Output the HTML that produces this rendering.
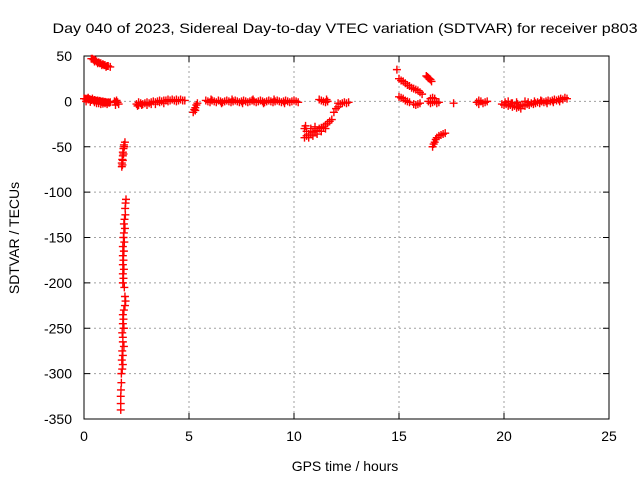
<!DOCTYPE html>
<html><head><meta charset="utf-8"><style>
body{margin:0;background:#fff}
svg{display:block;font-family:"Liberation Sans",Arial,sans-serif}
</style></head><body>
<svg id="chart" width="640" height="480" viewBox="0 0 640 480">
<rect width="640" height="480" fill="#fff"/>
<text x="345" y="33" font-size="14" text-anchor="middle" textLength="585" lengthAdjust="spacingAndGlyphs">Day 040 of 2023, Sidereal Day-to-day VTEC variation (SDTVAR) for receiver p803</text>
<g id="grid"></g>
<g id="axes"></g>
<g id="marks"></g>
<text x="345" y="471" font-size="14" text-anchor="middle">GPS time / hours</text>
<text x="0" y="0" font-size="14" text-anchor="middle" transform="translate(19,238) rotate(-90)">SDTVAR / TECUs</text>
</svg>
<script>
const xTicks=[0,5,10,15,20,25];
const yTicks=[50,0,-50,-100,-150,-200,-250,-300,-350];
const hours=[];const vals=[];
const pts=[
[0,3],[0.05,3],[0.1,2.5],[0.15,3],[0.2,2],[0.25,2.5],[0.3,2],[0.35,1.5],[0.4,2],[0.45,1],[0.5,1.5],[0.55,1],[0.6,0.5],[0.65,1],[0.7,0],[0.75,0.5],[0.8,0],[0.85,-0.5],[0.9,0],[0.95,-1],[1.0,-0.5],[1.05,-1],[1.1,-1.5],[1.15,-1],[1.2,-1.5],[1.25,-1],[0.1,0],[0.3,-0.5],[0.5,-1],[0.7,-2],[0.9,-2.5],[1.1,-3],[0.2,4],[0.4,3],[0.6,-2],[0.8,-3],[1.0,-2],
[0.35,47],[0.4,47],[0.45,46],[0.5,46],[0.55,45],[0.6,44],[0.7,43],[0.75,42],[0.8,42],[0.9,41],[0.95,40],[1.0,40],[1.1,39],[1.15,39],[1.25,38],[0.5,44],[0.65,42],[0.85,40],[1.05,38],
[1.45,0],[1.5,-1],[1.55,1],[1.6,-1],[1.65,-3],[1.5,-4],
[1.8,-72],[1.8,-68],[1.82,-64],[1.85,-60],[1.85,-56],[1.88,-52],[1.9,-48],[1.95,-45],[1.92,-50],[1.85,-65],[1.88,-58],[1.83,-70],
[2.0,-108],[1.98,-112],[1.96,-118],[1.97,-125],[1.93,-130],[1.9,-135],[1.95,-140],[1.9,-145],[1.88,-150],[1.92,-155],[1.85,-160],[1.9,-165],[1.85,-170],[1.88,-175],[1.85,-180],[1.9,-185],[1.85,-190],[1.88,-195],[1.85,-200],[1.92,-205],[1.95,-215],[1.98,-220],[1.95,-225],[1.9,-230],[1.85,-235],[1.88,-240],[1.85,-245],[1.9,-250],[1.82,-255],[1.85,-260],[1.85,-265],[1.9,-270],[1.82,-275],[1.85,-280],[1.8,-285],[1.85,-290],[1.82,-295],[1.78,-300],[1.78,-310],[1.76,-318],[1.75,-325],[1.75,-333],[1.75,-340],
[2.5,-3],[2.6,-4],[2.7,-2],[2.8,-3],[2.9,-2],[3.0,-1],[3.1,-2],[3.2,-1],[3.3,0],[3.4,-1],[3.5,0],[3.6,1],[3.7,0],[3.8,1],[3.9,1],[4.0,0],[4.1,1],[4.2,2],[4.3,1],[4.4,2],[4.5,1],[4.6,2],[4.7,1],[4.8,1],[2.6,-1],[3.0,-4],[3.4,-3],[3.8,-2],[2.55,-5],[2.75,-4],[3.2,-3],[3.6,-1],[4.0,2],[4.4,0],
[5.2,-12],[5.25,-9],[5.3,-7],[5.35,-4],[5.4,-2],[5.3,-10],
[5.8,1],[5.9,0],[6.0,-1],[6.1,1],[6.2,0],[6.3,-1],[6.4,1],[6.5,0],[6.6,-1],[6.7,0],[6.8,1],[6.9,0],[7.0,-1],[7.1,0],[7.2,1],[7.3,0],[7.4,-1],[7.5,0],[7.6,1],[7.7,0],[7.8,-1],[7.9,0],[8.0,1],[8.1,0],[8.2,-1],[8.3,0],[8.4,1],[8.5,0],[8.6,-1],[8.7,0],[8.8,1],[8.9,0],[9.0,-1],[9.1,0],[9.2,1],[9.3,0],[9.4,-1],[9.5,0],[9.6,1],[9.7,0],[9.8,-1],[9.9,0],[10.0,1],[10.1,0],[10.2,-1],[6.05,2],[6.55,-2],[7.05,2],[7.55,-2],[8.05,2],[8.55,-2],[9.05,2],[9.55,-2],
[10.5,-40],[10.6,-38],[10.7,-36],[10.8,-36],[10.9,-34],[11.0,-33],[11.1,-32],[11.2,-30],[11.3,-29],[11.4,-28],[11.5,-26],[11.6,-24],[11.7,-22],[11.8,-20],[10.5,-30],[10.6,-33],[10.8,-30],[11.0,-28],[10.55,-27],[10.7,-40],[10.9,-38],[11.1,-36],[11.3,-33],[11.5,-30],
[11.2,2],[11.3,1],[11.4,0],[11.5,-1],[11.6,0],[11.55,2],
[11.9,-12],[12.0,-8],[12.1,-6],[12.2,-3],[12.3,-2],[12.4,-1],[12.5,-2],[12.6,-1],[12.1,-2],
[14.9,35],[15.0,25],[15.1,23],[15.2,22],[15.3,20],[15.4,18],[15.5,17],[15.6,15],[15.7,14],[15.8,13],[15.9,12],[16.0,10],[16.1,8],
[15.0,5],[15.1,4],[15.2,3],[15.3,1],[15.4,0],[15.5,-1],[15.7,-3],[15.8,-4],[15.9,-3],[16.0,-2],
[16.3,28],[16.35,27],[16.4,26],[16.45,25],[16.5,24],[16.55,22],
[16.4,0],[16.5,-2],[16.6,-1],[16.7,0],[16.8,-2],[16.9,-1],[16.6,4],[16.7,3],[16.5,3],
[16.6,-50],[16.65,-47],[16.7,-45],[16.75,-42],[16.8,-40],[16.9,-38],[17.0,-37],[17.1,-36],[17.2,-35],
[17.6,-2],
[18.7,-1],[18.8,-3],[18.9,0],[19.0,-2],[19.1,-1],[19.2,0],[18.8,1],
[19.9,-3],[20.0,-4],[20.1,-3],[20.2,-5],[20.3,-4],[20.4,-6],[20.5,-5],[20.6,-7],[20.7,-6],[20.8,-5],[20.9,-4],[21.0,-5],[21.1,-3],[21.2,-4],[21.3,-2],[21.4,-3],[21.5,-2],[21.6,-1],[21.7,-2],[21.8,0],[21.9,-1],[22.0,0],[22.1,1],[22.2,0],[22.3,1],[22.4,2],[22.5,1],[22.6,2],[22.7,3],[22.8,2],[22.9,4],[23.0,3],[20.2,0],[20.6,-1],[21.0,0],[20.4,-2],[20.8,-8],[20.05,-1],[20.35,-2],[20.65,-3],[21.15,-1],[21.45,0],[21.75,1],[22.05,-2],[22.35,-1],[22.65,0]
];
for(const p of pts){hours.push(p[0]);vals.push(p[1]);}

const L=84,R=609,T=56,B=419;
const xs=v=>L+(v-0)/(25-0)*(R-L);
const ys=v=>T+(50-v)/(50+350)*(B-T);
const NS="http://www.w3.org/2000/svg";
function mk(tag,attrs,parent){const e=document.createElementNS(NS,tag);for(const k in attrs)e.setAttribute(k,attrs[k]);parent.appendChild(e);return e;}
const grid=document.getElementById('grid'),axes=document.getElementById('axes'),marks=document.getElementById('marks');
xTicks.forEach(t=>{const x=xs(t);
 if(t>0&&t<25){const g=mk('line',{x1:x,x2:x,y1:T,y2:B,stroke:'#a0a0a0','stroke-dasharray':'2,3'},grid);
 
 }
 mk('line',{x1:x,x2:x,y1:B,y2:B-6,stroke:'#000'},axes);
 mk('line',{x1:x,x2:x,y1:T,y2:T+6,stroke:'#000'},axes);
 const l=mk('text',{x:x,y:B+22,'font-size':14,'text-anchor':'middle'},axes);l.textContent=t;
 
 
});
yTicks.forEach(t=>{const y=ys(t);
 if(t<50&&t>-350){const g=mk('line',{x1:L,x2:R,y1:y,y2:y,stroke:'#a0a0a0','stroke-dasharray':'2,3'},grid);
 
 }
 mk('line',{x1:L,x2:L+6,y1:y,y2:y,stroke:'#000'},axes);
 mk('line',{x1:R,x2:R-6,y1:y,y2:y,stroke:'#000'},axes);
 const l=mk('text',{x:L-12,y:y+5,'font-size':14,'text-anchor':'end'},axes);l.textContent=t;
 
 
});
const box=mk('rect',{x:L,y:T,width:R-L,height:B-T,fill:'none',stroke:'#000'},axes);


let d='';
for(let i=0;i<hours.length;i++){const x=xs(hours[i]),y=ys(vals[i]);
 d+=`M${x-4},${y}H${x+4}M${x},${y-4}V${y+4}`;}
const m=mk('path',{d:d,stroke:'#ff0000','stroke-width':1.4,fill:'none'},marks);


</script>
</body></html>
